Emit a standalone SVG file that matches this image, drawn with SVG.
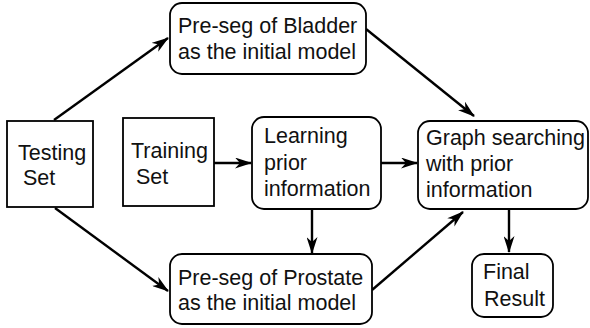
<svg xmlns="http://www.w3.org/2000/svg" width="590" height="328" viewBox="0 0 590 328">
<style>
.box{fill:#fff;stroke:#000;stroke-width:1.8}
.t{font-family:"Liberation Sans",Arial,sans-serif;font-size:21.5px;fill:#111}
.c{stroke:#000;stroke-width:2.4;fill:none;marker-end:url(#ah)}
</style>
<defs>
<marker id="ah" viewBox="0 0 17 11" refX="16" refY="5.5" markerWidth="17" markerHeight="11" markerUnits="userSpaceOnUse" orient="auto">
<path d="M0,0 L17,5.5 L0,11 L5,5.5 Z" fill="#000"/>
</marker>
</defs>
<g id="connectors">
<line class="c" x1="54" y1="120" x2="168" y2="38"/>
<line class="c" x1="55" y1="208" x2="168" y2="291"/>
<line class="c" x1="366" y1="29" x2="474" y2="116"/>
<line class="c" x1="214" y1="163" x2="251" y2="163"/>
<line class="c" x1="381" y1="163" x2="417" y2="163"/>
<line class="c" x1="312" y1="209" x2="312" y2="253"/>
<line class="c" x1="372" y1="290" x2="463" y2="212"/>
<line class="c" x1="509" y1="209" x2="509" y2="252"/>
</g>
<g id="bladder">
<rect class="box" x="170" y="3" width="196" height="71" rx="12"/>
<text class="t" x="178" y="33">Pre-seg of Bladder</text>
<text class="t" x="178" y="59">as the initial model</text>
</g>
<g id="testing">
<rect class="box" x="7" y="121" width="86" height="86"/>
<text class="t" x="18" y="160">Testing</text>
<text class="t" x="23" y="185">Set</text>
</g>
<g id="training">
<rect class="box" x="123" y="118" width="91" height="88"/>
<text class="t" x="131" y="158">Training</text>
<text class="t" x="136" y="184">Set</text>
</g>
<g id="learning">
<rect class="box" x="252" y="117" width="129" height="92" rx="12"/>
<text class="t" x="264" y="143">Learning</text>
<text class="t" x="264" y="170">prior</text>
<text class="t" x="264" y="196">information</text>
</g>
<g id="graph">
<rect class="box" x="418" y="121" width="170" height="88" rx="12"/>
<text class="t" x="426" y="145">Graph searching</text>
<text class="t" x="426" y="171">with prior</text>
<text class="t" x="426" y="197">information</text>
</g>
<g id="prostate">
<rect class="box" x="170" y="254" width="202" height="70" rx="12"/>
<text class="t" x="178" y="285">Pre-seg of Prostate</text>
<text class="t" x="178" y="310">as the initial model</text>
</g>
<g id="final">
<rect class="box" x="472" y="254" width="81" height="63" rx="12"/>
<text class="t" x="483" y="279">Final</text>
<text class="t" x="484" y="306">Result</text>
</g>
</svg>
